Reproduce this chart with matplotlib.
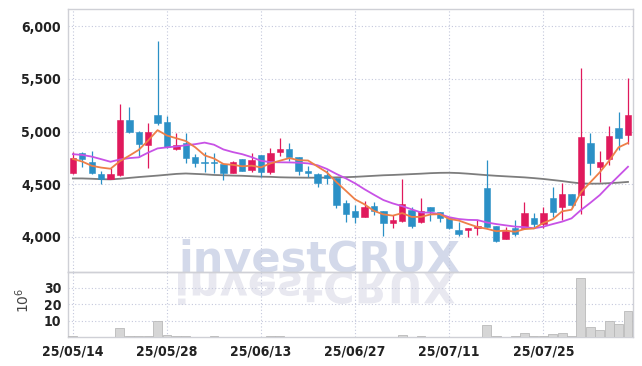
import matplotlib
matplotlib.use("Agg")
import matplotlib.pyplot as plt
from matplotlib.ticker import FuncFormatter
from matplotlib.textpath import TextPath
from matplotlib.patches import PathPatch
from matplotlib.font_manager import FontProperties, fontManager
from matplotlib.transforms import Affine2D, IdentityTransform

# trading days (yy/mm/dd)
dates = ["25/05/14", "25/05/15", "25/05/16", "25/05/19", "25/05/20", "25/05/21",
         "25/05/22", "25/05/23", "25/05/26", "25/05/27", "25/05/28", "25/05/29",
         "25/05/30", "25/06/02", "25/06/04", "25/06/05", "25/06/09", "25/06/10",
         "25/06/11", "25/06/12", "25/06/13", "25/06/16", "25/06/17", "25/06/18",
         "25/06/19", "25/06/20", "25/06/23", "25/06/24", "25/06/25", "25/06/26",
         "25/06/27", "25/06/30", "25/07/01", "25/07/02", "25/07/03", "25/07/04",
         "25/07/07", "25/07/08", "25/07/09", "25/07/10", "25/07/11", "25/07/14",
         "25/07/15", "25/07/16", "25/07/17", "25/07/18", "25/07/21", "25/07/22",
         "25/07/23", "25/07/24", "25/07/25", "25/07/28", "25/07/29", "25/07/30",
         "25/07/31", "25/08/01", "25/08/04", "25/08/05", "25/08/06", "25/08/07"]

opens = [4610, 4800, 4710, 4600, 4550, 4585, 5105, 5000, 4875, 5155,
         5090, 4830, 4895, 4755, 4715, 4710, 4690, 4610, 4735, 4635,
         4775, 4620, 4810, 4835, 4755, 4625, 4600, 4585, 4555, 4325,
         4245, 4190, 4290, 4245, 4135, 4150, 4260, 4140, 4280, 4235,
         4175, 4065, 4070, 4080, 4465, 4100, 3985, 4085, 4080, 4175,
         4120, 4365, 4280, 4405, 4400, 4895, 4660, 4735, 5030, 4965]
highs = [4810, 4805, 4820, 4625, 4650, 5265, 5235, 5005, 5085, 5860,
         5150, 4990, 4985, 4785, 4805, 4800, 4695, 4720, 4740, 4800,
         4780, 4840, 4935, 4890, 4760, 4675, 4605, 4635, 4560, 4355,
         4300, 4345, 4335, 4250, 4210, 4545, 4280, 4370, 4285, 4240,
         4180, 4145, 4085, 4165, 4730, 4105, 4090, 4165, 4335, 4225,
         4280, 4475, 4515, 4410, 5600, 4990, 4820, 5050, 5190, 5510]
lows = [4600, 4660, 4595, 4505, 4545, 4580, 4985, 4760, 4650, 5060,
        4845, 4825, 4700, 4660, 4615, 4605, 4540, 4605, 4625, 4615,
        4565, 4595, 4765, 4720, 4590, 4570, 4475, 4505, 4270, 4140,
        4130, 4185, 4205, 4005, 4085, 4145, 4080, 4135, 4150, 4140,
        4075, 4005, 3995, 4015, 4090, 3950, 3980, 4010, 4075, 4095,
        4080, 4190, 4160, 4270, 4215, 4590, 4525, 4680, 4825, 4880]
closes = [4745, 4740, 4605, 4550, 4595, 5105, 5000, 4880, 4995, 5085,
          4850, 4870, 4750, 4700, 4700, 4700, 4610, 4710, 4630, 4730,
          4620, 4800, 4835, 4755, 4630, 4605, 4515, 4555, 4300, 4220,
          4190, 4280, 4245, 4135, 4160, 4310, 4100, 4245, 4250, 4175,
          4080, 4030, 4085, 4100, 4090, 3965, 4060, 4030, 4225, 4120,
          4225, 4240, 4405, 4300, 4945, 4705, 4710, 4955, 4935, 5155]

ma5 = [4740, 4715, 4675, 4658, 4647, 4719, 4771, 4826, 4915, 5013,
       4962, 4936, 4910, 4851, 4774, 4744, 4692, 4684, 4670, 4676,
       4660, 4698, 4723, 4748, 4728, 4725, 4668, 4612, 4521, 4439,
       4356, 4309, 4247, 4214, 4202, 4226, 4190, 4190, 4213, 4216,
       4170, 4156, 4124, 4094, 4077, 4054, 4060, 4049, 4074, 4080,
       4132, 4168, 4243, 4258, 4423, 4519, 4613, 4723, 4850, 4892]
ma20 = [4785, 4778, 4762, 4738, 4713, 4735, 4748, 4755, 4800, 4840,
        4850, 4858, 4870, 4880, 4895, 4875, 4830, 4805, 4785, 4757,
        4722, 4710, 4708, 4707, 4704, 4698, 4680, 4645, 4598, 4556,
        4508, 4452, 4400, 4350, 4318, 4292, 4262, 4232, 4230, 4217,
        4187, 4170, 4162, 4160, 4137, 4122, 4110, 4098, 4093, 4082,
        4097, 4122, 4145, 4176, 4255, 4324, 4397, 4490, 4578, 4666]
ma_long = [4555, 4555, 4552, 4548, 4546, 4552, 4560, 4568, 4575, 4582,
           4590, 4598, 4602, 4598, 4594, 4588, 4585, 4582, 4580, 4576,
           4572, 4570, 4566, 4564, 4563, 4562, 4562, 4563, 4565, 4567,
           4570, 4575, 4580, 4585, 4588, 4592, 4596, 4600, 4605, 4608,
           4609, 4606, 4600, 4593, 4586, 4580, 4575, 4570, 4565, 4558,
           4550, 4540, 4530, 4518, 4508, 4505, 4506, 4510, 4515, 4522]

# volume in millions of shares
volume = [0.6, 0.1, 0.1, 0.1, 0.1, 5.4, 0.8, 0.8, 0.8, 9.7,
          1.6, 0.8, 0.6, 0.1, 0.1, 0.6, 0.1, 0.1, 0.1, 0.1,
          0.1, 0.7, 0.7, 0.1, 0.1, 0.1, 0.1, 0.1, 0.1, 0.1,
          0.1, 0.1, 0.1, 0.1, 0.1, 1.4, 0.1, 0.8, 0.1, 0.1,
          0.1, 0.1, 0.1, 0.1, 7.4, 0.8, 0.1, 0.8, 2.6, 0.8,
          0.8, 2.1, 2.6, 0.8, 36.0, 6.0, 4.2, 9.7, 8.1, 15.8]

price_ticks = [4000, 4500, 5000, 5500, 6000]
vol_ticks = [10, 20, 30]

UP = "#e0195c"
DOWN = "#2b90c6"
GRID = "#c4c8dc"
SPINE = "#cfd0d6"


def narrow_font():
    # look for any condensed / narrow face, prefer bold ones
    best = None
    for f in fontManager.ttflist:
        narrow = ("Narrow" in f.name or "Condensed" in f.name
                  or str(f.stretch) in ("condensed", "semi-condensed", "extra-condensed")
                  or (isinstance(f.stretch, int) and f.stretch < 500))
        if not narrow:
            continue
        w = f.weight if isinstance(f.weight, int) else (700 if "bold" in str(f.weight) else 400)
        if "Italic" in f.fname or "Oblique" in f.fname or f.style != "normal":
            continue
        score = -abs(w - 700)
        if best is None or score > best[0]:
            best = (score, f.fname)
    if best:
        return FontProperties(fname=best[1], size=10)
    return FontProperties(family="DejaVu Sans", weight="bold", size=9)


tick_font = narrow_font()

fig = plt.figure(figsize=(6.42, 3.66), dpi=100)
ax = fig.add_axes([0.1062, 0.2568, 0.8793, 0.7178])
axv = fig.add_axes([0.1062, 0.0784, 0.8793, 0.1784], sharex=ax)

# watermark: real text on top, mirrored outline below as a reflection
wm_prop = FontProperties(family="DejaVu Sans", weight="bold")
wm = TextPath((0, 0), "investCRUX", size=100, prop=wm_prop)
bb = wm.get_extents()
wm_w = 277
wm_size = wm_w * 72 / (bb.x1 - bb.x0)
fig.text(178 / 642, 94 / 366, "investCRUX", fontproperties=wm_prop, fontsize=wm_size,
         color="#d3d9ea", ha="left", va="baseline", zorder=-1)
s = wm_w / (bb.x1 - bb.x0)
tr = Affine2D().translate(-bb.x0, 0).scale(s, -s).translate(178, 94)
fig.add_artist(PathPatch(wm, transform=tr + IdentityTransform(),
                         facecolor="#e8e8f0", edgecolor="none", zorder=-1))

x = list(range(len(dates)))
for i in x:
    c = UP if closes[i] >= opens[i] else DOWN
    ax.vlines(i, lows[i], highs[i], color=c, linewidth=0.9, zorder=3)
    lo = min(opens[i], closes[i])
    h = max(abs(closes[i] - opens[i]), 8)
    ax.bar(i, h, bottom=lo, width=0.68, color=c, edgecolor=c, linewidth=0.4, zorder=4)

ax.plot(x, ma_long, color="#7d7d7d", linewidth=1.3, zorder=2)
ax.plot(x, ma20, color="#c852e6", linewidth=1.3, zorder=5)
ax.plot(x, ma5, color="#ee7f48", linewidth=1.3, zorder=5)

axv.bar(x, volume, width=0.95, color="#d6d6d6", edgecolor="#b9b9b9", linewidth=0.6, zorder=3)

ax.set_xlim(-0.5, 59.5)
ax.set_ylim(3667, 6160)
axv.set_ylim(0, 39.6)

ax.set_yticks(price_ticks)
ax.yaxis.set_major_formatter(FuncFormatter(lambda v, p: f"{int(v):,}"))
axv.set_yticks(vol_ticks)
tick_pos = x[::10]
axv.set_xticks(tick_pos)
axv.set_xticklabels([dates[i] for i in tick_pos])
plt.setp(ax.get_xticklabels(), visible=False)

for a in (ax, axv):
    a.set_facecolor("none")
    a.set_axisbelow(True)
    a.grid(True, color=GRID, linestyle=(0, (1, 2)), linewidth=0.8)
    a.tick_params(length=0, pad=5, labelcolor="#222222")
    for sp in a.spines.values():
        sp.set_color(SPINE)
        sp.set_linewidth(1.0)
    for lab in a.get_xticklabels() + a.get_yticklabels():
        lab.set_fontproperties(tick_font)

axv.set_ylabel(r"$10^6$", fontsize=10, color="#444444")
axv.yaxis.set_label_coords(-0.064, 0.57)

fig.savefig("out.png", dpi=100)
